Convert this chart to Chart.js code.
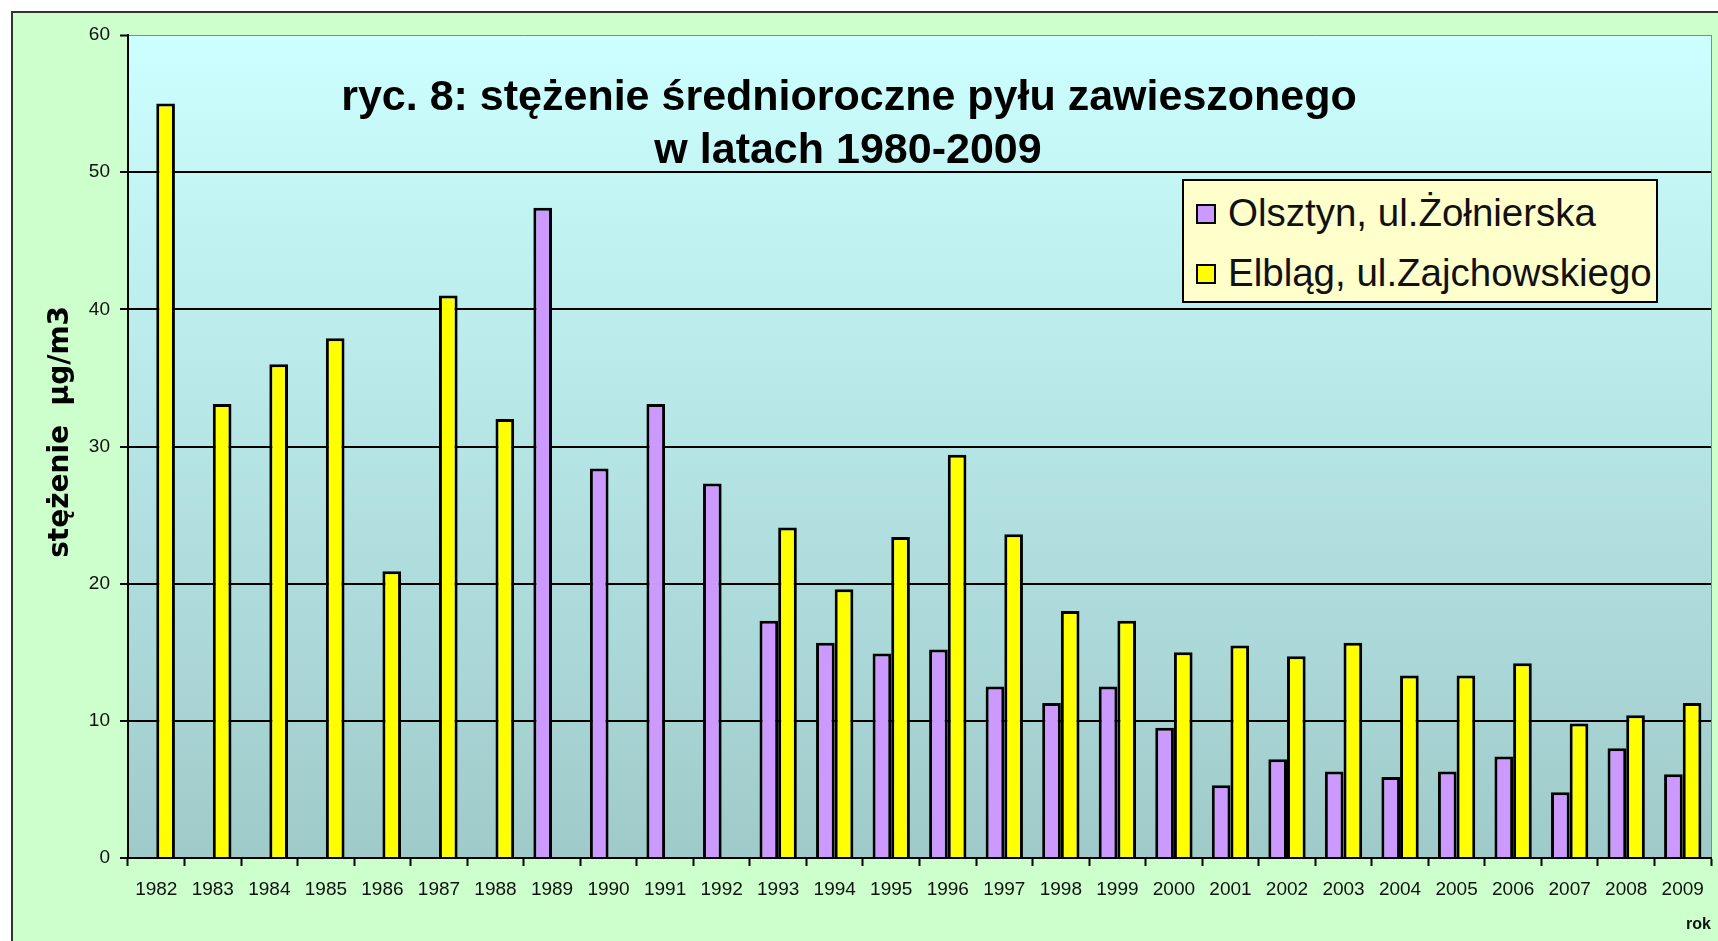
<!DOCTYPE html>
<html>
<head>
<meta charset="utf-8">
<title>ryc. 8: stężenie średnioroczne pyłu zawieszonego</title>
<script src="https://cdn.jsdelivr.net/npm/chart.js"></script>
<style>
  html, body { margin: 0; padding: 0; background: #fff; }
  .wrap { position: relative; width: 1718px; height: 941px; overflow: hidden; }
  #chart { position: absolute; left: 0; top: 0; }
  .legend {
    position: absolute; left: 1182px; top: 179px; width: 476px; height: 124px;
    box-sizing: border-box; background: #FFFFCC; border: 2px solid #000;
    font-family: "Liberation Sans", Arial, sans-serif; font-size: 38.5px; color: #111;
  }
  .legend-item { position: absolute; left: 12px; height: 44px; line-height: 44px; white-space: nowrap; }
  .legend-item .sw {
    display: inline-block; width: 20px; height: 20px; box-sizing: border-box;
    border: 2px solid #000; margin-right: 12px; vertical-align: middle; position: relative; top: -2px;
  }
</style>
</head>
<body>
<div class="wrap">
  <canvas id="chart" width="1718" height="941"></canvas>
  <div class="legend" id="legend"></div>
</div>

<script>
  // values (µg/m3)
  const years = ['1982', '1983', '1984', '1985', '1986', '1987', '1988', '1989', '1990', '1991',
    '1992', '1993', '1994', '1995', '1996', '1997', '1998', '1999', '2000', '2001',
    '2002', '2003', '2004', '2005', '2006', '2007', '2008', '2009'];

  const olsztyn = [null, null, null, null, null, null, null, 47.4, 28.4, 33.1,
    27.3, 17.3, 15.7, 14.9, 15.2, 12.5, 11.3, 12.5, 9.5, 5.3,
    7.2, 6.3, 5.9, 6.3, 7.4, 4.8, 8.0, 6.1];

  const elblag = [55.0, 33.1, 36.0, 37.9, 20.9, 41.0, 32.0, null, null, null,
    null, 24.1, 19.6, 23.4, 29.4, 23.6, 18.0, 17.3, 15.0, 15.5,
    14.7, 15.7, 13.3, 13.3, 14.2, 9.8, 10.4, 11.3];

  const seriesNames = ['Olsztyn, ul.Żołnierska', 'Elbląg, ul.Zajchowskiego'];
  const seriesColors = ['#CC99FF', '#FFFF00'];
  const titleLines = ['ryc. 8: stężenie średnioroczne pyłu zawieszonego', 'w latach 1980-2009'];

  // green frame + gradient plot area
  const backgroundPlugin = {
    id: 'background',
    beforeDraw(chart) {
      const ctx = chart.ctx;
      const a = chart.chartArea;
      ctx.save();
      ctx.fillStyle = '#fff';
      ctx.fillRect(0, 0, chart.width, chart.height);
      ctx.fillStyle = '#CCFFCC';
      ctx.fillRect(12, 12, chart.width, chart.height);
      ctx.strokeStyle = '#333';
      ctx.lineWidth = 2;
      ctx.beginPath();
      ctx.moveTo(12, chart.height + 5);
      ctx.lineTo(12, 12);
      ctx.lineTo(chart.width + 5, 12);
      ctx.stroke();

      const g = ctx.createLinearGradient(0, a.top, 0, a.bottom);
      g.addColorStop(0, '#CCFFFF');
      g.addColorStop(1, '#9FCACA');
      ctx.fillStyle = g;
      ctx.fillRect(a.left, a.top, a.right - a.left, a.bottom - a.top);
      ctx.strokeStyle = '#888';
      ctx.lineWidth = 1;
      ctx.beginPath();
      ctx.moveTo(a.right + 0.5, a.top);
      ctx.lineTo(a.right + 0.5, a.bottom);
      ctx.stroke();
      ctx.restore();
    }
  };

  const titlePlugin = {
    id: 'innerTitle',
    beforeDatasetsDraw(chart) {
      const ctx = chart.ctx;
      ctx.save();
      ctx.font = 'bold 43px "Liberation Sans", Arial, sans-serif';
      ctx.fillStyle = '#000';
      ctx.textAlign = 'center';
      ctx.textBaseline = 'middle';
      ctx.fillText(titleLines[0], 849, 98);
      ctx.fillText(titleLines[1], 848, 151);
      ctx.restore();
    }
  };

  new Chart(document.getElementById('chart'), {
    type: 'bar',
    data: {
      labels: years,
      datasets: [
        { label: seriesNames[0], data: olsztyn, backgroundColor: seriesColors[0] },
        { label: seriesNames[1], data: elblag, backgroundColor: seriesColors[1] }
      ]
    },
    options: {
      responsive: false,
      animation: false,
      layout: { padding: { left: 0, top: 35, right: 7, bottom: 0 } },
      datasets: {
        bar: {
          borderColor: '#000',
          borderWidth: 3,
          categoryPercentage: 0.66,
          barPercentage: 1.0
        }
      },
      plugins: {
        legend: { display: false },
        title: { display: false },
        tooltip: { enabled: false }
      },
      scales: {
        x: {
          afterFit: (s) => { s.height = 83; },
          grid: {
            offset: true,
            drawOnChartArea: false,
            drawTicks: true,
            tickLength: 8,
            tickColor: '#000',
            tickWidth: 2
          },
          border: { display: true, color: '#000', width: 2 },
          ticks: {
            autoSkip: false,
            maxRotation: 0,
            padding: 12,
            color: '#111',
            font: { family: '"Liberation Sans", Arial, sans-serif', size: 19 }
          },
          title: {
            display: true,
            text: 'rok',
            align: 'end',
            color: '#111',
            padding: { top: 0, bottom: 7 },
            font: { family: '"Liberation Sans", Arial, sans-serif', size: 16, weight: 'bold' }
          }
        },
        y: {
          min: 0,
          max: 60,
          afterFit: (s) => { s.width = 128; },
          grid: {
            color: (c) => c.tick && c.tick.value === 60 ? '#888' : '#000',
            lineWidth: (c) => c.tick && c.tick.value === 60 ? 1 : 2,
            tickLength: 8,
            tickColor: '#000',
            tickWidth: 2
          },
          border: { display: true, color: '#000', width: 2 },
          ticks: {
            stepSize: 10,
            padding: 10,
            color: '#111',
            font: { family: '"Liberation Sans", Arial, sans-serif', size: 19 }
          },
          title: {
            display: true,
            text: '   stężenie  µg/m3',
            color: '#000',
            padding: { top: 44, bottom: 0 },
            font: { family: '"DejaVu Sans", sans-serif', size: 28, weight: 'bold' }
          }
        }
      }
    },
    plugins: [backgroundPlugin, titlePlugin]
  });

  // legend box built from the series
  const legend = document.getElementById('legend');
  seriesNames.forEach((name, i) => {
    const item = document.createElement('div');
    item.className = 'legend-item';
    item.style.top = (10 + i * 60) + 'px';
    item.innerHTML = `<span class="sw" style="background:${seriesColors[i]}"></span>${name}`;
    legend.appendChild(item);
  });
</script>
</body>
</html>
